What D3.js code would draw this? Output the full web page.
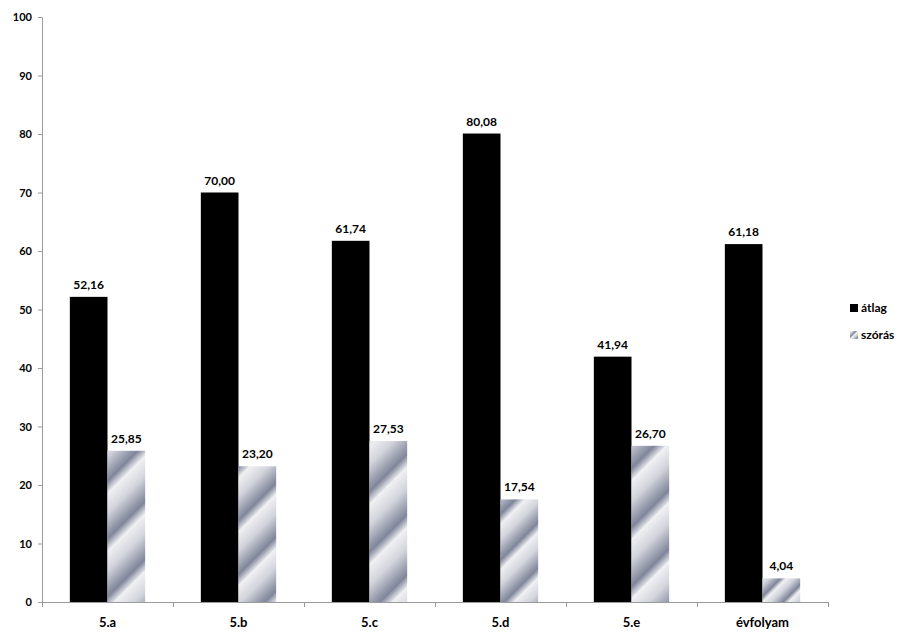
<!DOCTYPE html>
<html>
<head>
<meta charset="utf-8">
<script src="https://cdn.jsdelivr.net/npm/d3@7"></script>
<style>
  html, body { margin: 0; padding: 0; background: #fff; }
  svg { display: block; font-family: Lato, "Open Sans", sans-serif; font-weight: bold; }
</style>
</head>
<body>
<svg id="chart" width="901" height="632"></svg>
<script>
const categories = ["5.a", "5.b", "5.c", "5.d", "5.e", "évfolyam"];
const seriesNames = ["átlag", "szórás"];
const atlag = [52.16, 70.00, 61.74, 80.08, 41.94, 61.18];
const szoras = [25.85, 23.20, 27.53, 17.54, 26.70, 4.04];
const yTicks = [0, 10, 20, 30, 40, 50, 60, 70, 80, 90, 100];

const svg = d3.select("#chart");
const defs = svg.append("defs");

const x = d3.scaleBand().domain(categories).range([42, 828]);
const xs = d3.scaleBand().domain(seriesNames)
  .range([x.bandwidth() * 0.2125, x.bandwidth() * 0.7875]);
const y = d3.scaleLinear().domain([0, 100]).range([602, 17]);
const fmt = v => v.toFixed(2).replace(".", ",");

function makeGrad(id, bx, by, S) {
  const g = defs.append("linearGradient")
    .attr("id", id)
    .attr("gradientUnits", "userSpaceOnUse")
    .attr("spreadMethod", "repeat")
    .attr("x1", bx).attr("y1", by)
    .attr("x2", bx + S / 2).attr("y2", by + S / 2);
  [[0, "#f1f1f4"], [0.35, "#d3d5dc"], [0.68, "#959aab"], [0.8, "#80869a"], [1, "#e6e7ec"]]
    .forEach(([o, c]) => g.append("stop").attr("offset", o).attr("stop-color", c));
}

// y axis
const yAxis = svg.append("g")
  .attr("transform", "translate(42,0)")
  .call(d3.axisLeft(y).tickValues(yTicks).tickSize(4).tickSizeOuter(0).tickPadding(6));
yAxis.select(".domain").attr("stroke", "#9a9a9a");
yAxis.selectAll(".tick line").attr("stroke", "#9a9a9a");
yAxis.selectAll(".tick text").attr("font-size", 11).attr("font-family", "Lato, sans-serif")
  .attr("font-weight", "bold").attr("fill", "#000");

// bars
const groups = svg.append("g").selectAll("g").data(categories).join("g")
  .attr("transform", d => `translate(${x(d)},0)`);

groups.append("rect")
  .attr("x", xs("átlag"))
  .attr("width", xs.bandwidth())
  .attr("y", (d, i) => y(atlag[i]))
  .attr("height", (d, i) => y(0) - y(atlag[i]))
  .attr("fill", "#000");

groups.each(function (d, i) {
  const bx = x(d) + xs("szórás");
  const by = y(szoras[i]);
  const h = y(0) - by;
  makeGrad("g" + i, bx, by, 20 + 0.25 * h);
});

groups.append("rect")
  .attr("x", xs("szórás"))
  .attr("width", xs.bandwidth())
  .attr("y", (d, i) => y(szoras[i]))
  .attr("height", (d, i) => y(0) - y(szoras[i]))
  .attr("fill", (d, i) => `url(#g${i})`);

// value labels
groups.append("text")
  .attr("x", xs("átlag") + xs.bandwidth() / 2)
  .attr("y", (d, i) => y(atlag[i]) - 8)
  .attr("text-anchor", "middle").attr("font-size", 12)
  .text((d, i) => fmt(atlag[i]));
groups.append("text")
  .attr("x", xs("szórás") + xs.bandwidth() / 2)
  .attr("y", (d, i) => y(szoras[i]) - 8)
  .attr("text-anchor", "middle").attr("font-size", 12)
  .text((d, i) => fmt(szoras[i]));

// x axis
const xa = svg.append("g");
xa.append("line").attr("x1", x.range()[0]).attr("x2", x.range()[1])
  .attr("y1", y(0) + 0.5).attr("y2", y(0) + 0.5).attr("stroke", "#9a9a9a");
const bounds = categories.map(c => x(c)).concat([x.range()[1]]);
xa.selectAll("line.t").data(bounds).join("line").attr("class", "t")
  .attr("x1", d => Math.round(d) + 0.5).attr("x2", d => Math.round(d) + 0.5)
  .attr("y1", y(0)).attr("y2", y(0) + 5).attr("stroke", "#9a9a9a");
xa.selectAll("text").data(categories).join("text")
  .attr("x", d => x(d) + x.bandwidth() / 2)
  .attr("y", 627)
  .attr("text-anchor", "middle").attr("font-size", 13)
  .text(d => d);

// legend
makeGrad("glegend", 850, 331, 8);
const legend = svg.append("g");
legend.append("rect").attr("x", 850).attr("y", 304).attr("width", 8).attr("height", 8).attr("fill", "#000");
legend.append("rect").attr("x", 850).attr("y", 331).attr("width", 8).attr("height", 8).attr("fill", "url(#glegend)");
legend.append("text").attr("x", 861).attr("y", 312).attr("font-size", 12).text(seriesNames[0]);
legend.append("text").attr("x", 861).attr("y", 339).attr("font-size", 12).text(seriesNames[1]);
</script>
</body>
</html>
